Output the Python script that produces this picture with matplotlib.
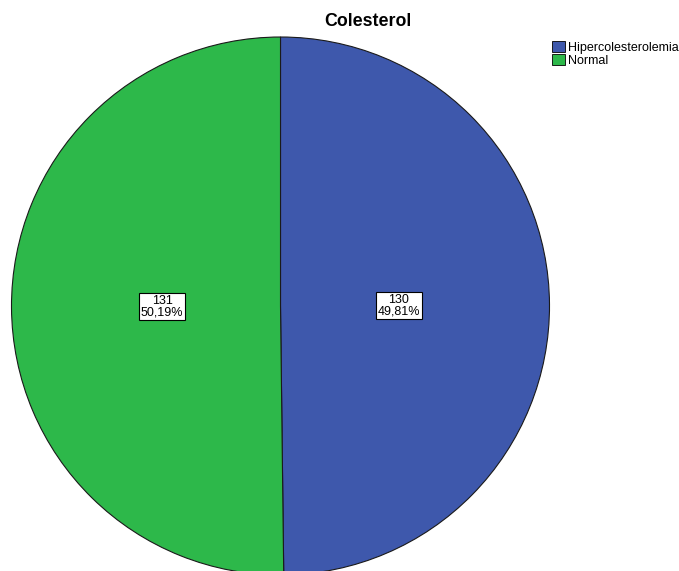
import matplotlib
matplotlib.use("Agg")
import matplotlib.pyplot as plt
import numpy as np
from matplotlib.patches import Patch

# data
categories = ["Hipercolesterolemia", "Normal"]
counts = [130, 131]
percents = ["49,81%", "50,19%"]

BLUE = "#3e58ac"
GREEN = "#2db84a"

plt.rcParams["font.family"] = ["Liberation Sans", "DejaVu Sans"]

W, H = 679, 571
fig = plt.figure(figsize=(W / 100, H / 100), dpi=100)
fig.patch.set_facecolor("white")

# pie spans x 11..550, y 37..575 (pixels from top)
ax = fig.add_axes([11 / W, (H - 575) / H, 539 / W, 538 / H])
ax.set_aspect("equal")
wedges, _ = ax.pie(counts, colors=[BLUE, GREEN], startangle=90,
                   counterclock=False, radius=1.0,
                   wedgeprops={"edgecolor": "#1a1a1a", "linewidth": 0.8})
ax.set_xlim(-1, 1)
ax.set_ylim(-1, 1)
ax.axis("off")

for w, c, p in zip(wedges, counts, percents):
    ang = np.deg2rad((w.theta1 + w.theta2) / 2)
    x, y = 0.44 * np.cos(ang), 0.44 * np.sin(ang)
    ax.text(x, y, f"{c}\n{p}", ha="center", va="center", fontsize=9,
            linespacing=0.95,
            bbox={"boxstyle": "square,pad=0.15", "facecolor": "white",
                  "edgecolor": "black", "linewidth": 0.8})

fig.text(368 / W, 1 - 22 / H, "Colesterol", ha="center", va="center",
         fontsize=12.8, fontweight="bold")

handles = [Patch(facecolor=BLUE, edgecolor="black", linewidth=0.6),
           Patch(facecolor=GREEN, edgecolor="black", linewidth=0.6)]
fig.legend(handles, categories, loc="upper left",
           bbox_to_anchor=(552 / W, 1 - 41 / H), frameon=False,
           fontsize=9, handlelength=1.0, handleheight=1.0,
           handletextpad=0.25, labelspacing=0.0, borderpad=0,
           borderaxespad=0)

fig.savefig("out.png", dpi=100)
